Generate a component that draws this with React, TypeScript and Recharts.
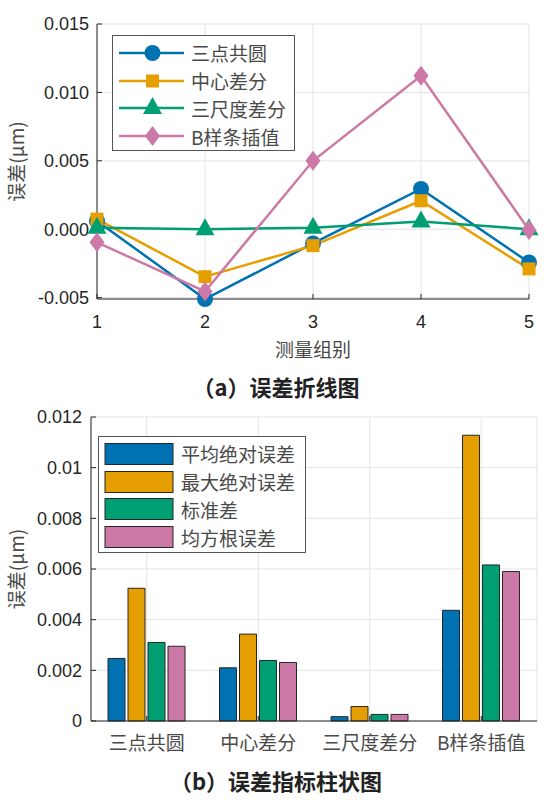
import {
  LineChart,
  Line,
  BarChart,
  Bar,
  XAxis,
  YAxis,
  CartesianGrid,
  Legend,
} from 'recharts'

// 折线图数据 (a)
const groups = [1, 2, 3, 4, 5]
const sanDian = [0.0006, -0.0051, -0.00104, 0.00294, -0.00243]
const zhongXin = [0.00074, -0.00347, -0.0012, 0.00208, -0.0029]
const sanChiDu = [0.0001, 0.0, 0.0001, 0.00057, 0.0]
const bSpline = [-0.00096, -0.00455, 0.005, 0.01122, -0.00005]
const lineTicksY = [-0.005, 0, 0.005, 0.01, 0.015]

// 柱状图数据 (b)
const methods = ['三点共圆', '中心差分', '三尺度差分', 'B样条插值']
const meanAbs = [0.00247, 0.0021, 0.00017, 0.00437]
const maxAbs = [0.00524, 0.00343, 0.00057, 0.01128]
const stdDev = [0.0031, 0.00239, 0.00026, 0.00616]
const rmse = [0.00295, 0.00231, 0.00026, 0.0059]
const barTicksY = [0, 0.002, 0.004, 0.006, 0.008, 0.01, 0.012]

const colors = ['#0072B2', '#E69F00', '#009E73', '#CC79A7']
const lineSeries = [
  { key: 'sanDian', name: '三点共圆', shape: 'circle' },
  { key: 'zhongXin', name: '中心差分', shape: 'square' },
  { key: 'sanChiDu', name: '三尺度差分', shape: 'triangle' },
  { key: 'bSpline', name: 'B样条插值', shape: 'diamond' },
]
const barSeries = [
  { key: 'meanAbs', name: '平均绝对误差' },
  { key: 'maxAbs', name: '最大绝对误差' },
  { key: 'stdDev', name: '标准差' },
  { key: 'rmse', name: '均方根误差' },
]

const lineData = groups.map((g, i) => ({
  group: g,
  sanDian: sanDian[i],
  zhongXin: zhongXin[i],
  sanChiDu: sanChiDu[i],
  bSpline: bSpline[i],
}))

const barData = methods.map((m, i) => ({
  name: m,
  meanAbs: meanAbs[i],
  maxAbs: maxAbs[i],
  stdDev: stdDev[i],
  rmse: rmse[i],
}))

const FONT = '"Liberation Sans", Arial, "Noto Sans CJK SC", sans-serif'
const CJK = '"Noto Sans CJK SC", "Liberation Sans", sans-serif'
const AXIS = '#262626'
const GRID = '#e3e3e3'
const TEXT_CJK = '#4a4a4a'

// legend 的顺序按系列顺序排 (recharts 默认按名称排序)
const ordered = (payload: any[], series: { name: string }[]) =>
  series
    .map((s) => (payload || []).find((p: any) => p.value === s.name))
    .filter(Boolean)

const Marker = ({ shape, cx, cy, color }: any) => {
  if (shape === 'circle') return <circle cx={cx} cy={cy} r={8} fill={color} />
  if (shape === 'square')
    return <rect x={cx - 6.5} y={cy - 6.5} width={13} height={13} fill={color} />
  if (shape === 'triangle')
    return (
      <polygon
        points={`${cx},${cy - 11} ${cx + 9.5},${cy + 6} ${cx - 9.5},${cy + 6}`}
        fill={color}
      />
    )
  return (
    <polygon
      points={`${cx},${cy - 10} ${cx + 7.5},${cy} ${cx},${cy + 10} ${cx - 7.5},${cy}`}
      fill={color}
    />
  )
}

const LineLegend = ({ payload }: any) => (
  <div
    style={{
      width: 183,
      height: 116,
      border: '1px solid #555',
      background: '#fff',
      boxSizing: 'border-box',
      paddingTop: 3,
    }}
  >
    {ordered(payload, lineSeries).map((entry: any) => {
      const s = lineSeries.find((x) => x.name === entry.value)!
      return (
        <div key={entry.value} style={{ height: 27.8, display: 'flex', alignItems: 'center' }}>
          <svg width={76} height={26} style={{ flex: 'none' }}>
            <line x1={6} y1={13} x2={71} y2={13} stroke={entry.color} strokeWidth={2.5} />
            <Marker shape={s.shape} cx={39.5} cy={13} color={entry.color} />
          </svg>
          <span style={{ fontFamily: CJK, fontSize: 19, color: TEXT_CJK, marginLeft: 2 }}>
            {entry.value}
          </span>
        </div>
      )
    })}
  </div>
)

const BarLegend = ({ payload }: any) => (
  <div
    style={{
      width: 208,
      height: 117,
      border: '1px solid #555',
      background: '#fff',
      boxSizing: 'border-box',
      paddingTop: 3,
    }}
  >
    {ordered(payload, barSeries).map((entry: any) => (
      <div key={entry.value} style={{ height: 27.8, display: 'flex', alignItems: 'center' }}>
        <svg width={80} height={26} style={{ flex: 'none' }}>
          <rect x={6} y={2.5} width={68} height={21} fill={entry.color} stroke="#262626" strokeWidth={1} />
        </svg>
        <span style={{ fontFamily: CJK, fontSize: 19, color: TEXT_CJK, marginLeft: 2 }}>
          {entry.value}
        </span>
      </div>
    ))}
  </div>
)

const caption: any = {
  position: 'absolute',
  left: 0,
  width: 552,
  textAlign: 'center',
  fontFamily: CJK,
  fontWeight: 'bold',
  fontSize: 22,
  lineHeight: '24px',
  color: '#222',
}

export default function App() {
  return (
    <div
      style={{
        position: 'absolute',
        left: 0,
        top: 0,
        width: 554,
        height: 802,
        background: '#fff',
        fontFamily: FONT,
      }}
    >
      <div style={{ position: 'absolute', left: 0, top: 0 }}>
        <LineChart
          width={554}
          height={400}
          data={lineData}
          margin={{ top: 24, right: 25, left: 0, bottom: 60 }}
        >
          <CartesianGrid stroke={GRID} />
          <XAxis
            dataKey="group"
            type="number"
            domain={[1, 5]}
            ticks={groups}
            height={41}
            stroke={AXIS}
            tickSize={-5}
            tickMargin={21}
            tick={{ fontSize: 18, fill: AXIS, fontFamily: FONT }}
            label={{
              value: '测量组别',
              position: 'bottom',
              offset: 4,
              style: { fontSize: 19, fill: TEXT_CJK, fontFamily: CJK },
            }}
          />
          <XAxis
            xAxisId="top"
            dataKey="group"
            type="number"
            domain={[1, 5]}
            ticks={groups}
            orientation="top"
            mirror
            height={0}
            stroke={AXIS}
            tick={false}
            tickSize={5}
          />
          <YAxis
            type="number"
            domain={[-0.0051, 0.015]}
            ticks={lineTicksY}
            width={97}
            stroke={AXIS}
            tickSize={-5}
            tickMargin={13}
            tickFormatter={(v) => Number(v).toFixed(3)}
            tick={{ fontSize: 18, fill: AXIS, fontFamily: FONT }}
            label={{
              value: '误差(μm)',
              angle: -90,
              position: 'insideLeft',
              offset: 17,
              style: { textAnchor: 'middle', fontSize: 19, fill: TEXT_CJK, fontFamily: CJK },
            }}
          />
          <YAxis
            yAxisId="right"
            type="number"
            domain={[-0.0051, 0.015]}
            ticks={lineTicksY}
            orientation="right"
            mirror
            width={0}
            stroke={AXIS}
            tick={false}
            tickSize={5}
          />
          <Legend
            layout="vertical"
            align="center"
            verticalAlign="middle"
            content={<LineLegend />}
            wrapperStyle={{ left: 112, top: 35, width: 183, height: 116 }}
          />
          {lineSeries.map((s, i) => (
            <Line
              key={s.key}
              dataKey={s.key}
              name={s.name}
              stroke={colors[i]}
              strokeWidth={2.5}
              activeDot={false}
              isAnimationActive={false}
              dot={(p: any) => (
                <Marker key={`${s.key}-${p.index}`} shape={s.shape} cx={p.cx} cy={p.cy} color={colors[i]} />
              )}
            />
          ))}
        </LineChart>
      </div>
      <div style={{ ...caption, top: 374 }}>（a）误差折线图</div>

      <div style={{ position: 'absolute', left: 0, top: 400 }}>
        <BarChart
          width={554}
          height={402}
          data={barData}
          margin={{ top: 17, right: 17, left: 0, bottom: 41 }}
          barSize={17}
          barGap={3}
        >
          <CartesianGrid stroke={GRID} />
          <XAxis
            dataKey="name"
            height={40}
            stroke={AXIS}
            tickSize={-5}
            tickMargin={21}
            interval={0}
            tick={{ fontSize: 19, fill: TEXT_CJK, fontFamily: CJK }}
          />
          <XAxis
            xAxisId="top"
            dataKey="name"
            orientation="top"
            mirror
            height={0}
            stroke={AXIS}
            tick={false}
            tickSize={5}
          />
          <YAxis
            type="number"
            domain={[0, 0.012]}
            ticks={barTicksY}
            width={91}
            stroke={AXIS}
            tickSize={-5}
            tickMargin={14}
            tickFormatter={(v) => String(Number(Number(v).toFixed(3)))}
            tick={{ fontSize: 18, fill: AXIS, fontFamily: FONT }}
            label={{
              value: '误差(μm)',
              angle: -90,
              position: 'insideLeft',
              offset: 17,
              style: { textAnchor: 'middle', fontSize: 19, fill: TEXT_CJK, fontFamily: CJK },
            }}
          />
          <YAxis
            yAxisId="right"
            type="number"
            domain={[0, 0.012]}
            ticks={barTicksY}
            orientation="right"
            mirror
            width={0}
            stroke={AXIS}
            tick={false}
            tickSize={5}
          />
          <Legend
            layout="vertical"
            align="center"
            verticalAlign="middle"
            content={<BarLegend />}
            wrapperStyle={{ left: 98, top: 36, width: 208, height: 117 }}
          />
          {barSeries.map((s, i) => (
            <Bar
              key={s.key}
              dataKey={s.key}
              name={s.name}
              fill={colors[i]}
              stroke="#262626"
              strokeWidth={1}
              isAnimationActive={false}
            />
          ))}
        </BarChart>
      </div>
      <div style={{ ...caption, top: 768 }}>（b）误差指标柱状图</div>
    </div>
  )
}
